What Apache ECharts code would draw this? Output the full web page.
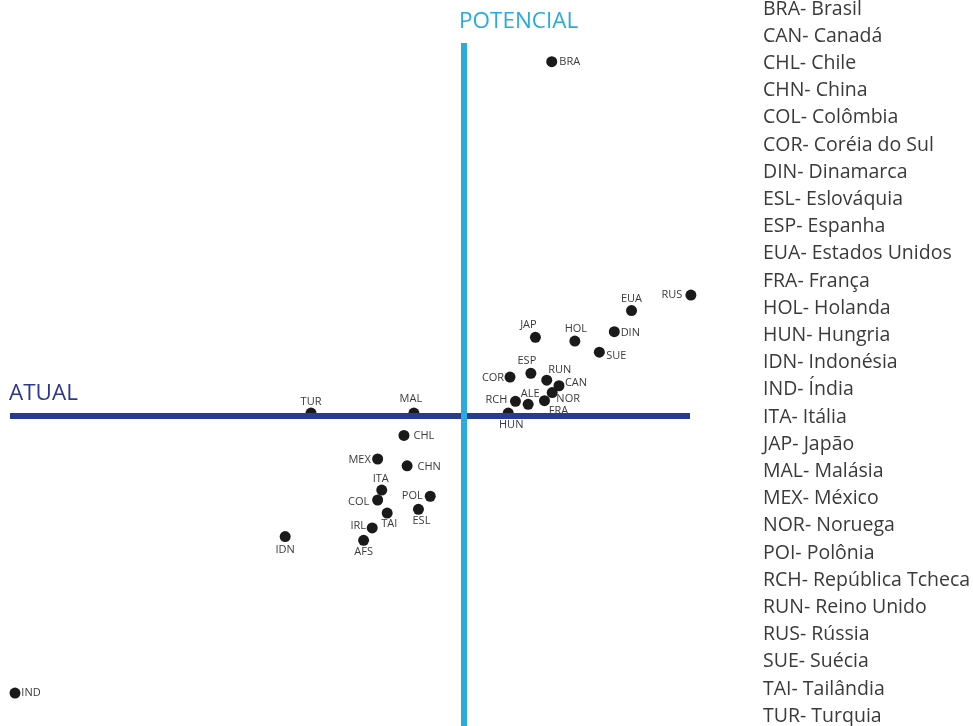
<!DOCTYPE html>
<html>
<head>
<meta charset="utf-8">
<script src="https://cdn.jsdelivr.net/npm/echarts@6/dist/echarts.min.js"></script>
<style>
  html, body { margin: 0; padding: 0; background: #fff; }
  #chart { width: 973px; height: 726px; }
</style>
</head>
<body>
<div id="chart"></div>
<script>
// country codes and their position (atual x, potencial y)
var codes   = ['BRA','RUS','EUA','DIN','HOL','JAP','SUE','ESP','COR','RUN','CAN','NOR','RCH','ALE','FRA','HUN',
               'TUR','MAL','CHL','MEX','CHN','ITA','COL','POL','ESL','TAI','IRL','AFS','IDN','IND'];
var xValues = [19.5, 50.2, 37.1, 33.3, 24.6, 15.9, 30.0, 14.9, 10.3, 18.4, 21.1, 19.6, 11.5, 14.3, 17.9, 9.9,
               -33.6, -10.9, -13.1, -18.9, -12.4, -18.0, -18.9, -7.3, -9.9, -16.8, -20.1, -22.0, -39.3, -98.9];
var yValues = [57.0, 19.4, 16.9, 13.5, 12.0, 12.6, 10.2, 6.8, 6.2, 5.7, 4.8, 3.7, 2.3, 1.8, 2.4, 0.4,
               0.4, 0.4, -3.2, -7.0, -8.1, -12.0, -13.6, -13.0, -15.1, -15.7, -18.1, -20.1, -19.5, -44.7];

// legend list on the right
var legendItems = ['BRA- Brasil','CAN- Canadá','CHL- Chile','CHN- China','COL- Colômbia','COR- Coréia do Sul',
  'DIN- Dinamarca','ESL- Eslováquia','ESP- Espanha','EUA- Estados Unidos','FRA- França','HOL- Holanda',
  'HUN- Hungria','IDN- Indonésia','IND- Índia','ITA- Itália','JAP- Japão','MAL- Malásia','MEX- México',
  'NOR- Noruega','POI- Polônia','RCH- República Tcheca','RUN- Reino Unido','RUS- Rússia','SUE- Suécia',
  'TAI- Tailândia','TUR- Turquia'];

// label offset from each dot (pixels)
var labelOffset = {
  BRA:[18,0], RUS:[-19,0], EUA:[0,-12], DIN:[16,1], HOL:[1,-12], JAP:[-7,-12], SUE:[17,4], ESP:[-4,-12],
  COR:[-17,1], RUN:[13,-10], CAN:[17,-3], NOR:[16,6], RCH:[-19,-1], ALE:[2,-11], FRA:[14,10], HUN:[3,12],
  TUR:[0,-11], MAL:[-3,-14], CHL:[20,0], MEX:[-18,1], CHN:[22,1], ITA:[-1,-11], COL:[-19,2], POL:[-18,0],
  ESL:[3,12], TAI:[2,11], IRL:[-14,-2], AFS:[0,12], IDN:[0,13], IND:[16,0]
};

var chart = echarts.init(document.getElementById('chart'));

var points = codes.map(function (c, i) {
  return {
    name: c,
    value: [xValues[i], yValues[i]],
    label: { offset: labelOffset[c] }
  };
});

var legendGraphics = legendItems.map(function (t, i) {
  return {
    type: 'text',
    x: 763,
    y: 9 + i * 27.2,
    style: { text: t, fontFamily: 'Open Sans', fontSize: 19.5, fill: '#3a3a3a', verticalAlign: 'middle' }
  };
});

var option = {
  animation: false,
  grid: { left: 10, right: 283, top: 43, bottom: 0 },
  xAxis: { type: 'value', min: -100, max: 50, show: false },
  yAxis: { type: 'value', min: -50, max: 60, show: false },
  graphic: [
    { type: 'text', x: 9, y: 394,
      style: { text: 'ATUAL', fontFamily: 'Open Sans', fontSize: 22.5, fill: '#2b3990', verticalAlign: 'middle' } },
    { type: 'text', x: 459, y: 22,
      style: { text: 'POTENCIAL', fontFamily: 'Open Sans', fontSize: 22.5, fill: '#29abe2', verticalAlign: 'middle' } }
  ].concat(legendGraphics),
  series: [
    {
      // the two quadrant lines
      type: 'scatter',
      data: [],
      z: 1,
      silent: true,
      markLine: {
        silent: true,
        symbol: 'none',
        label: { show: false },
        data: [
          { yAxis: 0, lineStyle: { color: '#263b91', width: 6, type: 'solid' } },
          { xAxis: 0, lineStyle: { color: '#29abe2', width: 6, type: 'solid' } }
        ]
      }
    },
    {
      type: 'scatter',
      z: 3,
      clip: false,
      symbolSize: 11,
      itemStyle: { color: '#1a1a1a', opacity: 1 },
      label: {
        show: true,
        position: 'inside',
        formatter: '{b}',
        fontFamily: 'Open Sans',
        fontSize: 11,
        color: '#3a3a3a'
      },
      data: points
    }
  ]
};
chart.setOption(option);
</script>
</body>
</html>
